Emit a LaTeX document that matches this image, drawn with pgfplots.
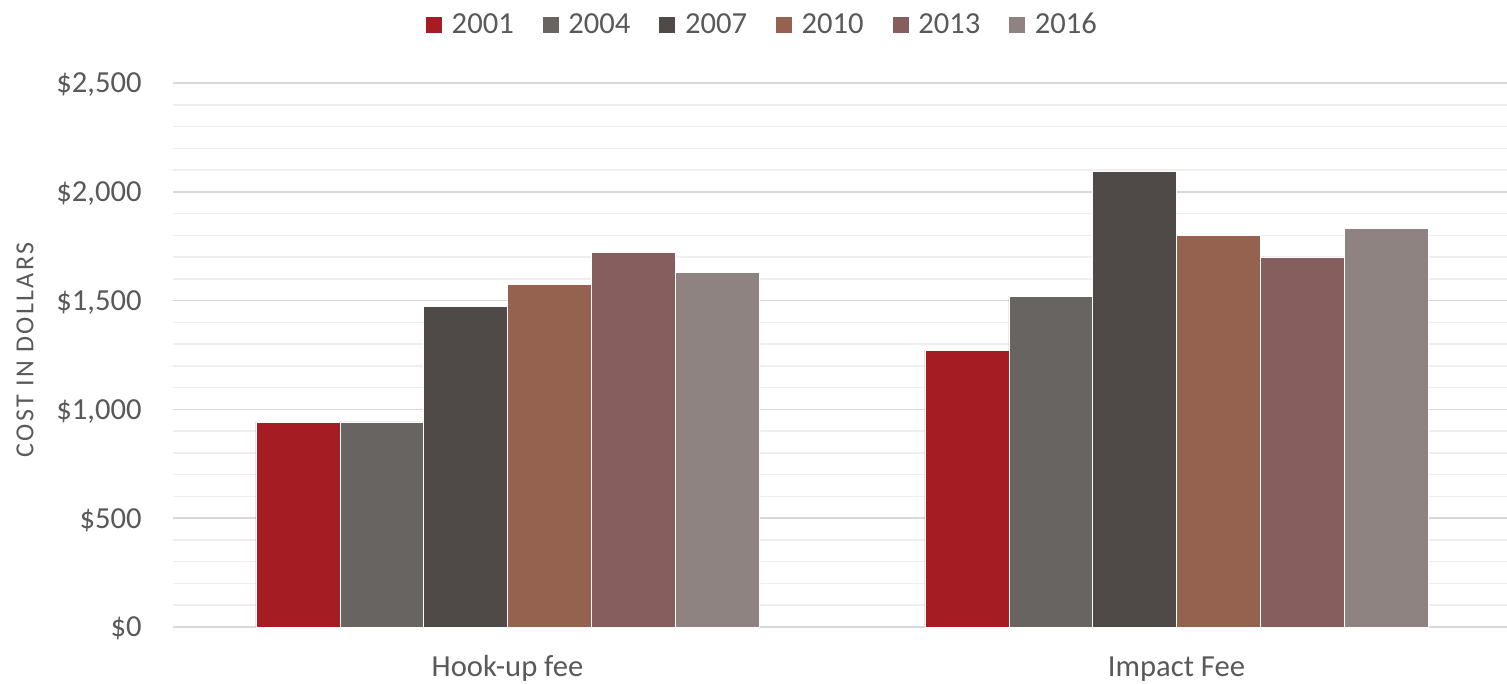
\documentclass[border=0pt]{standalone}
\usepackage{pgfplots}
\pgfplotsset{compat=1.18}
\usepackage{fontspec}
\setmainfont{Carlito}
\definecolor{c01}{HTML}{A51D23}
\definecolor{c04}{HTML}{686462}
\definecolor{c07}{HTML}{4F4A48}
\definecolor{c10}{HTML}{956250}
\definecolor{c13}{HTML}{855E5D}
\definecolor{c16}{HTML}{8F8382}
\definecolor{txt}{HTML}{595959}
\definecolor{majg}{HTML}{D9D9D9}
\definecolor{ming}{HTML}{EFEFEF}
\begin{document}
\begin{tikzpicture}
\useasboundingbox (-86.5pt,-28.5pt) rectangle (667pt,313.5pt);
\begin{axis}[
  scale only axis,
  width=669pt, height=272pt,
  ybar=0pt, bar width=41.92pt,
  xmin=-0.5, xmax=1.5,
  ymin=0, ymax=2500,
  xtick={0,1},
  xticklabels={Hook-up fee, Impact Fee},
  ytick={0,500,1000,1500,2000,2500},
  yticklabels={{\$0},{\$500},{\$1,000},{\$1,500},{\$2,000},{\$2,500}},
  minor ytick={100,200,300,400,600,700,800,900,1100,1200,1300,1400,1600,1700,1800,1900,2100,2200,2300,2400},
  ymajorgrids, yminorgrids,
  major grid style={majg, line width=0.75pt},
  minor grid style={ming, line width=0.75pt},
  axis line style={draw=none},
  major tick length=0pt, minor tick length=0pt,
  /pgf/number format/assume math mode=true,
  tick label style={font=\fontsize{15.3}{18}\selectfont, text=txt},
  y tick label style={inner sep=0pt, anchor=base east, xshift=-15.5pt, yshift=-5pt},
  x tick label style={inner sep=0pt, anchor=base, yshift=-24.8pt},
  ylabel={COST IN DOLLARS},
  every axis y label/.style={at={(axis description cs:-0.10441,0.5092)}, rotate=90, anchor=base, font=\fontsize{13}{15}\selectfont\addfontfeature{LetterSpace=9}, text=txt},
  legend columns=-1,
  legend style={at={(0.4395,1.1066)}, anchor=center, draw=none, fill=none, inner sep=0pt,
    font=\fontsize{15.3}{18}\selectfont, text=txt,
    nodes={inner sep=0pt},
    /tikz/every odd column/.append style={column sep=4.5pt},
    /tikz/every even column/.append style={column sep=14pt}},
  legend image code/.code={\fill[#1] (0pt,-4.25pt) rectangle (8.5pt,4.25pt);},
  every axis plot/.append style={draw=white, line width=0.3pt},
]
\addplot[fill=c01] coordinates {(0,941) (1,1271)};
\addplot[fill=c04] coordinates {(0,943) (1,1521)};
\addplot[fill=c07] coordinates {(0,1475) (1,2092)};
\addplot[fill=c10] coordinates {(0,1575) (1,1800)};
\addplot[fill=c13] coordinates {(0,1722) (1,1697)};
\addplot[fill=c16] coordinates {(0,1631) (1,1830)};
\legend{2001,2004,2007,2010,2013,2016}
\end{axis}
\end{tikzpicture}
\end{document}
